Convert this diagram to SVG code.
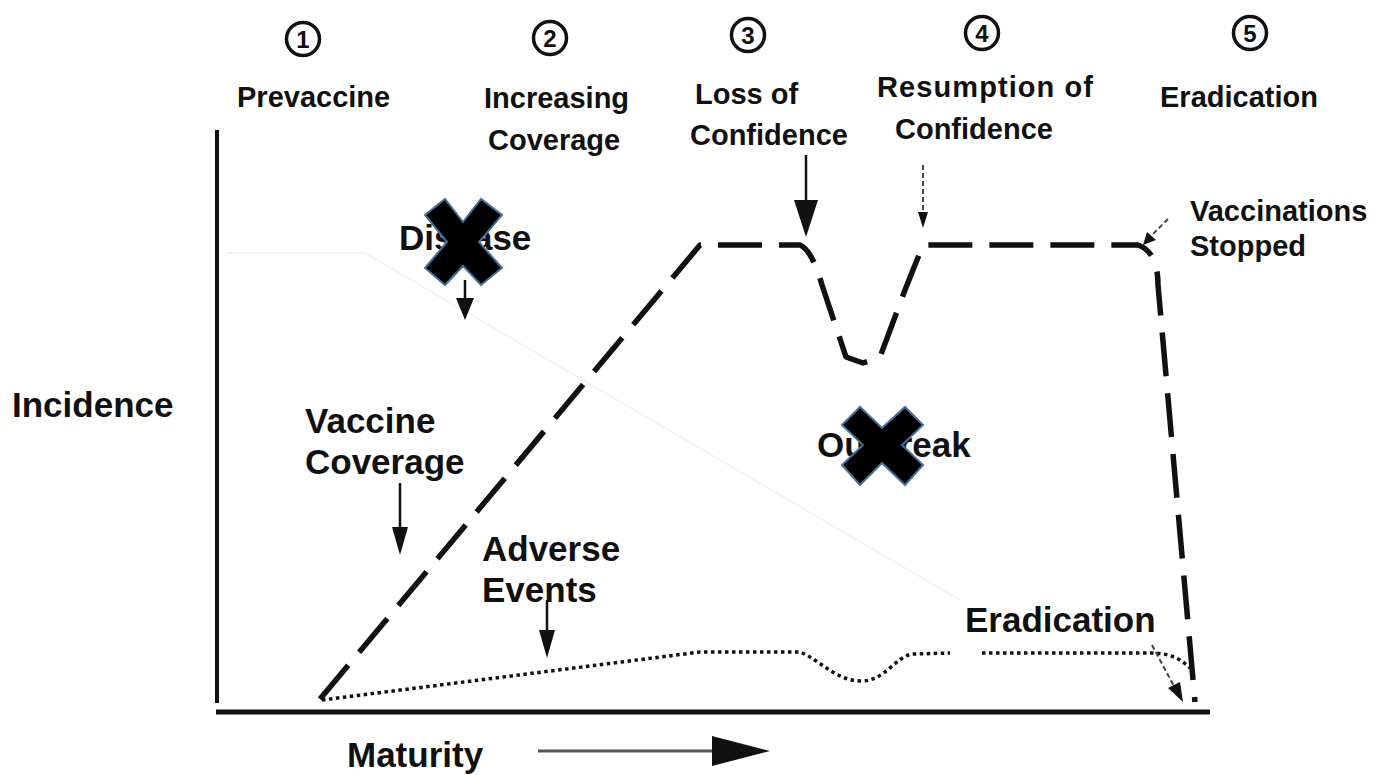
<svg xmlns="http://www.w3.org/2000/svg" width="1377" height="775" viewBox="0 0 1377 775">
  <defs>
    <style>
      .hdr { font-family: "Liberation Sans", Arial, sans-serif; font-weight: bold; font-size: 29px; fill: #111; }
      .lbl { font-family: "Liberation Sans", Arial, sans-serif; font-weight: bold; font-size: 35px; fill: #111; }
      .num { font-family: "Liberation Sans", Arial, sans-serif; font-weight: bold; font-size: 24px; fill: #111; text-anchor: middle; }
      .circ { fill: none; stroke: #111; stroke-width: 3.5; }
      .axis { stroke: #111; fill: none; stroke-linecap: butt; }
      .dash { fill: none; stroke: #111; stroke-width: 5.5; stroke-dasharray: 44 17; stroke-linejoin: round; }
      .dot { fill: none; stroke: #111; stroke-width: 3.5; stroke-dasharray: 3.5 3.5; }
      .arr { stroke: #111; stroke-width: 2.5; fill: none; }
      .thin { stroke: #444; stroke-width: 2; fill: none; stroke-dasharray: 5 3; }
      .head { fill: #111; stroke: none; }
      .xmark { fill: #000; stroke: #41719c; stroke-width: 2; stroke-linejoin: miter; }
      .ghost { stroke: #f4f4f4; stroke-width: 2; fill: none; }
    </style>
  </defs>
  <rect width="1377" height="775" fill="#ffffff"/>

  <!-- faint remnants -->
  <g id="remnants">
    <path class="ghost" d="M226,253 L365,253 L960,600"/>
  </g>

  <!-- axes -->
  <g id="axes">
    <line class="axis" x1="217" y1="130" x2="217" y2="703" stroke-width="4"/>
    <line class="axis" x1="216" y1="712" x2="1210" y2="712" stroke-width="5"/>
  </g>

  <!-- phase headers -->
  <g id="phase1">
    <circle class="circ" cx="303" cy="39" r="16.5"/>
    <text class="num" x="303" y="48">1</text>
    <text class="hdr" x="237" y="107">Prevaccine</text>
  </g>
  <g id="phase2">
    <circle class="circ" cx="550" cy="38" r="16.5"/>
    <text class="num" x="550" y="47">2</text>
    <text class="hdr" x="484" y="108">Increasing</text>
    <text class="hdr" x="488" y="150">Coverage</text>
  </g>
  <g id="phase3">
    <circle class="circ" cx="748" cy="35" r="16.5"/>
    <text class="num" x="748" y="44">3</text>
    <text class="hdr" x="695" y="104">Loss of</text>
    <text class="hdr" x="690" y="145">Confidence</text>
  </g>
  <g id="phase4">
    <circle class="circ" cx="982" cy="33" r="16.5"/>
    <text class="num" x="982" y="42">4</text>
    <text class="hdr" x="877" y="97" textLength="216" lengthAdjust="spacing">Resumption of</text>
    <text class="hdr" x="895" y="139">Confidence</text>
  </g>
  <g id="phase5">
    <circle class="circ" cx="1250" cy="33" r="16.5"/>
    <text class="num" x="1250" y="42">5</text>
    <text class="hdr" x="1160" y="107">Eradication</text>
  </g>

  <!-- labels -->
  <g id="vaccinations-stopped">
    <text class="hdr" x="1190" y="221">Vaccinations</text>
    <text class="hdr" x="1190" y="256">Stopped</text>
  </g>
  <g id="disease">
    <text class="lbl" x="399" y="250">Disease</text>
  </g>
  <g id="incidence">
    <text class="lbl" x="12" y="417">Incidence</text>
  </g>
  <g id="vaccine-coverage">
    <text class="lbl" x="305" y="433">Vaccine</text>
    <text class="lbl" x="305" y="474">Coverage</text>
  </g>
  <g id="outbreak">
    <text class="lbl" x="817" y="457">Outbreak</text>
  </g>
  <g id="adverse-events">
    <text class="lbl" x="482" y="561">Adverse</text>
    <text class="lbl" x="482" y="602">Events</text>
  </g>
  <g id="eradication-low">
    <text class="lbl" x="965" y="632">Eradication</text>
  </g>
  <g id="maturity">
    <text class="lbl" x="347" y="767">Maturity</text>
  </g>

  <!-- connectors -->
  <g id="connectors">
    <!-- vaccine coverage curve -->
    <path class="dash" d="M320,699 L700,245 L800,245 Q812,250 822,285 L846,357 L863,363 L880,357 L905,290 L923,245 L1138,245 Q1158,252 1158,285 L1195,702"/>
    <!-- adverse events curve -->
    <path class="dot" d="M322,700 L700,652 L800,652 C820,660 835,680 860,681 C885,682 895,656 913,654 L950,653"/>
    <path class="dot" d="M982,653 L1150,653 C1165,653 1178,656 1190,668"/>

    <!-- disease arrow -->
    <line class="arr" x1="465" y1="280" x2="465" y2="300"/>
    <polygon class="head" points="456,298 474,298 465,320"/>
    <!-- loss of confidence arrow -->
    <line class="arr" x1="806" y1="155" x2="806" y2="205"/>
    <polygon class="head" points="794,200 818,200 806,237"/>
    <!-- resumption arrow -->
    <line class="thin" x1="923" y1="165" x2="923" y2="214"/>
    <polygon class="head" points="918,212 928,212 923,228"/>
    <!-- vaccinations stopped arrow -->
    <line class="thin" x1="1168" y1="219" x2="1150" y2="237"/>
    <polygon class="head" points="1143,245 1147,232 1156,240"/>
    <!-- vaccine coverage arrow -->
    <line class="arr" x1="400" y1="483" x2="400" y2="530"/>
    <polygon class="head" points="392,527 408,527 400,555"/>
    <!-- adverse events arrow -->
    <line class="arr" x1="547" y1="600" x2="547" y2="632"/>
    <polygon class="head" points="539,630 555,630 547,658"/>
    <!-- eradication arrow -->
    <line class="thin" x1="1152" y1="645" x2="1175" y2="688"/>
    <polygon class="head" points="1183,702 1168,688 1180,682"/>
    <!-- maturity arrow -->
    <line x1="538" y1="751" x2="714" y2="751" stroke="#555" stroke-width="3"/>
    <polygon class="head" points="712,736 770,751 712,766"/>
  </g>

  <!-- X marks -->
  <g id="x-disease">
    <polygon class="xmark" points="425,215 445,199 463,222 481,199 502,215 479,242 502,268 481,285 463,266 445,285 425,268 447,242"/>
  </g>
  <g id="x-outbreak">
    <polygon class="xmark" points="842,425 860,407 882,428 905,407 923,425 902,445 923,465 905,485 882,463 860,485 842,465 863,445"/>
  </g>
</svg>
